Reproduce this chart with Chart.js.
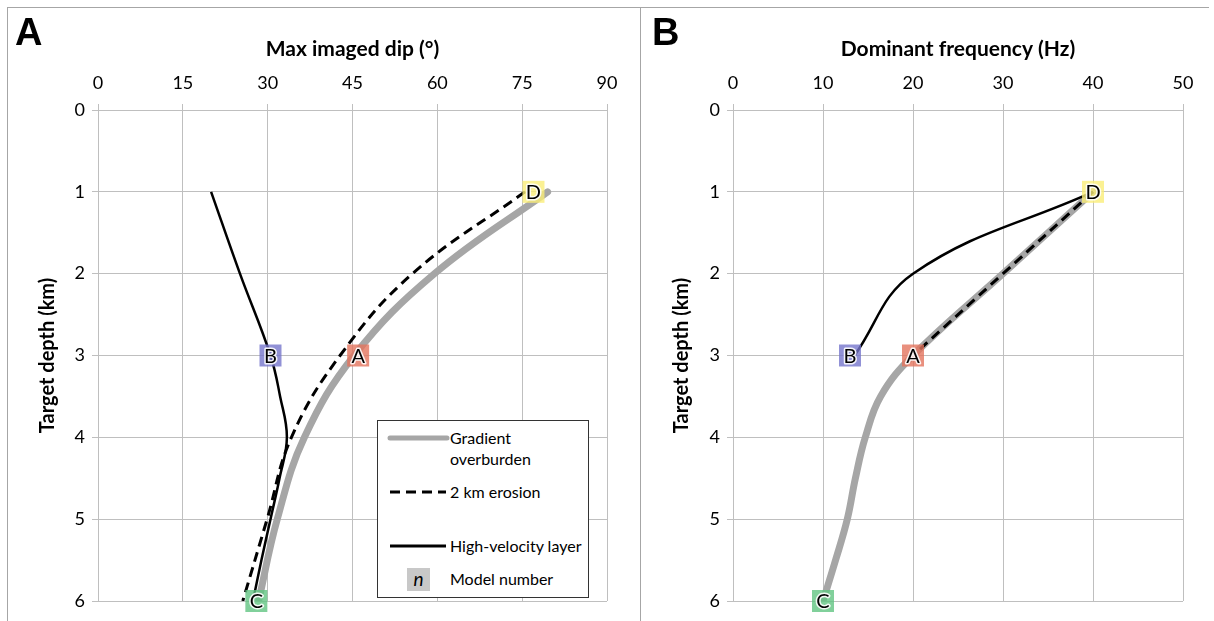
<!DOCTYPE html>
<html>
<head>
<meta charset="utf-8">
<script src="https://cdn.jsdelivr.net/npm/chart.js@4.4.1/dist/chart.umd.min.js"></script>
<style>
  html, body { margin: 0; padding: 0; background: #fff; }
  #wrap { position: relative; width: 1214px; height: 621px; overflow: hidden; font-family: Lato, "Open Sans", sans-serif; }
  #cA { position: absolute; left: 0; top: 0; }
  #cB { position: absolute; left: 640px; top: 0; }
  .frameTop { position: absolute; left: 7px; top: 7px; width: 1202px; height: 0; border-top: 1px solid #a6a6a6; }
  .frameLeft { position: absolute; left: 7px; top: 7px; width: 0; height: 614px; border-left: 1px solid #a6a6a6; }
  .frameMid { position: absolute; left: 640px; top: 7px; width: 0; height: 614px; border-left: 1px solid #a6a6a6; }
  .panel { position: absolute; top: 12px; font-family: "Liberation Sans", Arial, sans-serif; font-weight: bold; font-size: 38px; line-height: 40px; color: #000; }
  #legend { position: absolute; left: 377px; top: 420px; width: 210px; height: 176px; border: 1.5px solid #333; background: #fff; font-family: Lato, sans-serif; font-size: 16px; color: #000; }
  #legend .txt { position: absolute; left: 72px; line-height: 21px; white-space: nowrap; }
  #legend svg { position: absolute; left: 0; top: 0; }
</style>
</head>
<body>
<div id="wrap">
  <canvas id="cA" width="640" height="621"></canvas>
  <canvas id="cB" width="574" height="621"></canvas>
  <div class="frameTop"></div>
  <div class="frameLeft"></div>
  <div class="frameMid"></div>
  <div class="panel" style="left:15px;">A</div>
  <div class="panel" style="left:652px;">B</div>
  <div id="legend">
    <svg width="210" height="176">
      <line x1="12" y1="17" x2="69" y2="17" stroke="#a6a6a6" stroke-width="5" stroke-linecap="round"/>
      <line x1="12" y1="71" x2="68" y2="71" stroke="#000" stroke-width="3" stroke-dasharray="10,6"/>
      <line x1="12" y1="125" x2="68" y2="125" stroke="#000" stroke-width="3"/>
      <rect x="29" y="147" width="23" height="23" fill="#c8c8c8"/>
      <text x="40.5" y="165" text-anchor="middle" font-family="Lato, sans-serif" font-style="italic" font-size="19">n</text>
    </svg>
    <div class="txt" style="top:6px;">Gradient<br>overburden</div>
    <div class="txt" style="top:60px;">2 km erosion</div>
    <div class="txt" style="top:114px;">High-velocity layer</div>
    <div class="txt" style="top:147px;">Model number</div>
  </div>
</div>
<script>
// ---------- data ----------
// Panel A: max imaged dip (degrees) vs target depth (km)
const gradientDepthA = [1, 2, 3, 4, 5, 6];
const gradientDip = [79.5, 59.5, 45.3, 36.5, 31.7, 28.4];
const erosionDepthA = [1, 2, 3, 4, 5, 6];
const erosionDip = [75.5, 55.6, 42.8, 34.2, 29.9, 25.6];
const highVelDepthA = [1, 2, 3, 3.5, 4, 4.5, 5, 5.5, 6];
const highVelDip = [20, 25.1, 30.5, 32.2, 33.4, 32.1, 30.5, 28.9, 27.4];

// Panel B: dominant frequency (Hz) vs target depth (km)
const gradientDepthB = [1, 2, 3, 3.5, 4, 4.5, 5, 5.5, 6];
const gradientFreq = [40, 30, 20, 16.4, 14.7, 13.6, 12.7, 11.4, 10];
const erosionDepthB = [1, 2, 3];
const erosionFreq = [40, 30, 20];
const highVelDepthB = [1, 2, 3];
const highVelFreq = [40, 20, 13.5];

// Model markers
const modelNames = ['A', 'B', 'C', 'D'];
const modelDepthKm = [3, 3, 6, 1];
const modelDip = [46, 30.5, 28, 77];
const modelFreq = [20, 13, 10, 40];
const modelColors = ['rgba(228,116,94,0.8)', 'rgba(118,118,204,0.8)', 'rgba(98,196,130,0.8)', 'rgba(250,238,120,0.8)'];

// Tick labels
const depthTicks = [0, 1, 2, 3, 4, 5, 6];
const dipTicks = [0, 15, 30, 45, 60, 75, 90];
const freqTicks = [0, 10, 20, 30, 40, 50];

// ---------- helpers ----------
const FONT = 'Lato';
const GRID = '#bfbfbf';
const pts = (xs, ys) => xs.map((x, i) => ({ x: x, y: ys[i] }));

const modelLabelPlugin = (xs) => ({
  id: 'modelLabels',
  afterDatasetsDraw(chart) {
    const { ctx, scales } = chart;
    ctx.save();
    modelNames.forEach((name, i) => {
      const px = scales.x.getPixelForValue(xs[i]);
      const py = scales.y.getPixelForValue(modelDepthKm[i]);
      ctx.fillStyle = modelColors[i];
      ctx.fillRect(px - 11, py - 11, 22, 22);
      ctx.font = '20px ' + FONT;
      ctx.textAlign = 'center';
      ctx.textBaseline = 'middle';
      ctx.lineWidth = 3;
      ctx.strokeStyle = 'rgba(255,255,255,0.9)';
      ctx.lineJoin = 'round';
      ctx.strokeText(name, px, py + 1);
      ctx.fillStyle = '#000';
      ctx.fillText(name, px, py + 1);
    });
    ctx.restore();
  }
});

function makeChart(id, cfg) {
  const datasets = cfg.series.map(s => ({
    data: s.data,
    showLine: true,
    borderColor: s.color,
    borderWidth: s.width,
    borderDash: s.dash || [],
    borderCapStyle: s.cap || 'butt',
    pointRadius: 0,
    tension: 0.4,
    fill: false,
    order: s.order
  }));
  return new Chart(document.getElementById(id), {
    type: 'scatter',
    data: { datasets },
    options: {
      responsive: false,
      animation: false,
      events: [],
      layout: { padding: { top: 0, left: 0, right: cfg.padRight, bottom: 20 } },
      plugins: { legend: { display: false }, tooltip: { enabled: false } },
      scales: {
        x: {
          type: 'linear', position: 'top', min: cfg.xTicks[0], max: cfg.xTicks[cfg.xTicks.length - 1],
          afterBuildTicks: (s) => { s.ticks = cfg.xTicks.map(v => ({ value: v })); },
          afterFit: (s) => { s.height = 110; },
          ticks: { color: '#000', font: { family: FONT, size: 18 }, padding: 10, maxRotation: 0 },
          grid: { color: GRID, tickColor: GRID, tickLength: 6 },
          border: { color: GRID },
          title: { display: true, text: cfg.xTitle, color: '#000', font: { family: FONT, size: 21, weight: 'bold' }, padding: { top: 37, bottom: 0 } }
        },
        y: {
          type: 'linear', position: 'left', reverse: true, min: 0, max: 6,
          afterBuildTicks: (s) => { s.ticks = depthTicks.map(v => ({ value: v })); },
          afterFit: (s) => { s.width = cfg.yWidth; },
          ticks: { color: '#000', font: { family: FONT, size: 18 }, padding: 7 },
          grid: { color: GRID, tickColor: GRID, tickLength: 6 },
          border: { color: GRID },
          title: { display: true, text: 'Target depth (km)', color: '#000', font: { family: FONT, size: 20, weight: 'bold' }, padding: { top: cfg.yTitlePad, bottom: 0 } }
        }
      }
    },
    plugins: [modelLabelPlugin(cfg.modelX)]
  });
}

makeChart('cA', {
  xTicks: dipTicks, xTitle: 'Max imaged dip (°)', padRight: 33, yWidth: 98, yTitlePad: 36,
  modelX: modelDip,
  series: [
    { data: pts(gradientDip, gradientDepthA), color: '#a6a6a6', width: 7, order: 3, cap: 'round' },
    { data: pts(erosionDip, erosionDepthA), color: '#000', width: 3, dash: [10, 6], order: 2 },
    { data: pts(highVelDip, highVelDepthA), color: '#000', width: 2.5, order: 1 }
  ]
});

makeChart('cB', {
  xTicks: freqTicks, xTitle: 'Dominant frequency (Hz)', padRight: 31, yWidth: 93, yTitlePad: 30,
  modelX: modelFreq,
  series: [
    { data: pts(gradientFreq, gradientDepthB), color: '#a6a6a6', width: 7, order: 3, cap: 'round' },
    { data: pts(erosionFreq, erosionDepthB), color: '#000', width: 3, dash: [10, 6], order: 2 },
    { data: pts(highVelFreq, highVelDepthB), color: '#000', width: 2.5, order: 1 }
  ]
});
</script>
</body>
</html>
